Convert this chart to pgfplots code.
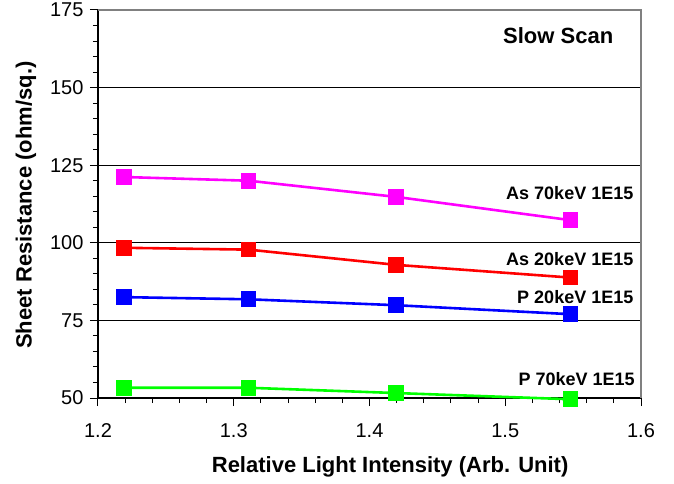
\documentclass[border=0pt]{standalone}
\usepackage{pgfplots}
\pgfplotsset{compat=1.18}
\usepackage{fontspec}
\setmainfont{Liberation Sans}
\definecolor{cmag}{RGB}{255,0,255}
\definecolor{cred}{RGB}{255,0,0}
\definecolor{cblue}{RGB}{0,0,255}
\definecolor{cgreen}{RGB}{0,255,0}
\begin{document}
\begin{tikzpicture}
\begin{axis}[
  at={(0,0)}, anchor=south west,
  scale only axis, width=543pt, height=388pt,
  xmin=1.2, xmax=1.6, ymin=50, ymax=175,
  axis x line*=bottom, axis y line*=left,
  axis line style={line width=1.6pt, black, -},
  xtick={1.2,1.3,1.4,1.5,1.6}, minor x tick num=4,
  ytick={50,75,100,125,150,175}, minor y tick num=4,
  tick align=outside,
  major tick length=8pt, minor tick length=5pt,
  every tick/.style={black, line width=1pt},
  ymajorgrids, grid style={black, line width=0.9pt},
  /pgf/number format/assume math mode=true,
  xticklabel style={font=\fontsize{20}{22}\selectfont, /pgf/number format/fixed, /pgf/number format/precision=1, /pgf/number format/fixed zerofill, yshift=-14pt},
  yticklabel style={font=\fontsize{20}{22}\selectfont, xshift=-3pt},
  xlabel={\textbf{Relative Light Intensity (Arb. Unit)}},
  ylabel={\textbf{Sheet Resistance (ohm/sq.)}},
  xlabel style={font=\fontsize{22}{24}\selectfont, at={(axis description cs:0.538,0)}, anchor=center, yshift=-69pt},
  ylabel style={font=\fontsize{22}{24}\selectfont, at={(axis description cs:0,0.497)}, anchor=center, yshift=72pt},
  every axis plot/.append style={line width=2.6pt, mark=square*, mark size=6.5pt, mark options={solid, line width=0pt}},
  clip=false,
]
\addplot[cmag, mark options={fill=cmag, draw=cmag}] coordinates {(1.219,121.2) (1.311,120.0) (1.4195,114.8) (1.548,107.3)};
\addplot[cred, mark options={fill=cred, draw=cred}] coordinates {(1.219,98.4) (1.311,97.8) (1.4195,92.9) (1.548,88.8)};
\addplot[cblue, mark options={fill=cblue, draw=cblue}] coordinates {(1.219,82.5) (1.311,81.8) (1.4195,79.9) (1.548,77.0)};
\addplot[cgreen, mark options={fill=cgreen, draw=cgreen}] coordinates {(1.219,53.3) (1.311,53.3) (1.4195,51.6) (1.548,49.6)};
\draw[gray, line width=1.2pt] (rel axis cs:0,1) -- (rel axis cs:1,1) -- (rel axis cs:1,0);
\node[font=\fontsize{22}{24}\selectfont\bfseries, anchor=center] at (axis cs:1.539,166.6) {Slow Scan};
\node[font=\fontsize{18}{20}\selectfont\bfseries, anchor=east, inner sep=0pt] at (axis cs:1.5945,116.0) {As 70keV 1E15};
\node[font=\fontsize{18}{20}\selectfont\bfseries, anchor=east, inner sep=0pt] at (axis cs:1.5945,94.8) {As 20keV 1E15};
\node[font=\fontsize{18}{20}\selectfont\bfseries, anchor=east, inner sep=0pt] at (axis cs:1.5945,82.5) {P 20keV 1E15};
\node[font=\fontsize{18}{20}\selectfont\bfseries, anchor=east, inner sep=0pt] at (axis cs:1.5955,56.1) {P 70keV 1E15};
\end{axis}
\pgfresetboundingbox
\useasboundingbox (-98pt,-85pt) rectangle (576pt,398pt);
\end{tikzpicture}
\end{document}
